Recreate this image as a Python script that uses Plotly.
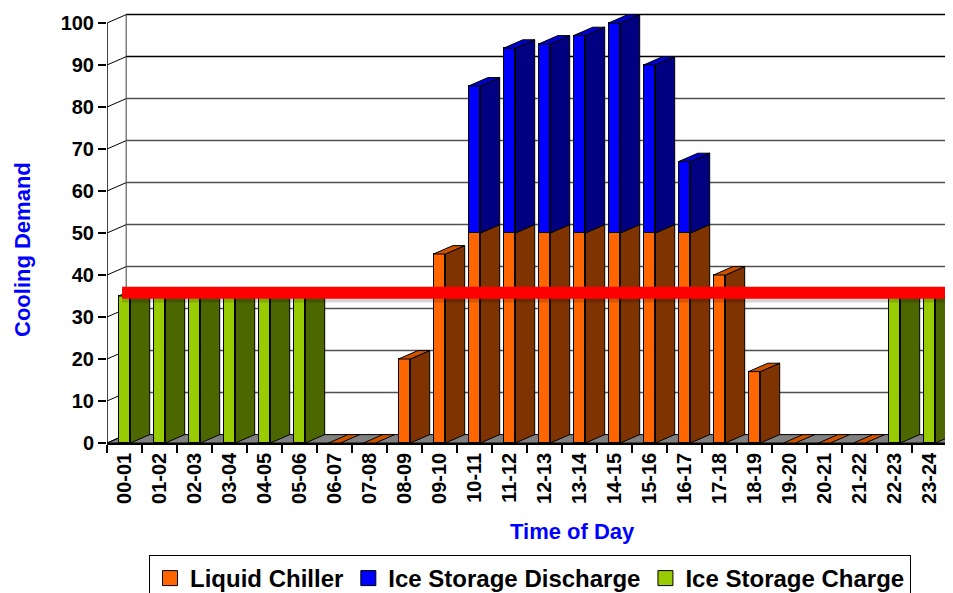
import plotly.graph_objects as go

# ---------------- data ----------------
categories = ["00-01", "01-02", "02-03", "03-04", "04-05", "05-06", "06-07", "07-08",
              "08-09", "09-10", "10-11", "11-12", "12-13", "13-14", "14-15", "15-16",
              "16-17", "17-18", "18-19", "19-20", "20-21", "21-22", "22-23", "23-24"]
liquid_chiller = [0, 0, 0, 0, 0, 0, 0, 0, 20, 45, 50, 50, 50, 50, 50, 50, 50, 40, 17, 0, 0, 0, 0, 0]
ice_discharge = [0, 0, 0, 0, 0, 0, 0, 0, 0, 0, 35, 44, 45, 47, 50, 40, 17, 0, 0, 0, 0, 0, 0, 0]
ice_charge = [35, 35, 35, 35, 35, 35, 0, 0, 0, 0, 0, 0, 0, 0, 0, 0, 0, 0, 0, 0, 0, 0, 35, 35]
y_ticks = [0, 10, 20, 30, 40, 50, 60, 70, 80, 90, 100]
threshold = 35.8

series = [
    ("Liquid Chiller", liquid_chiller, "#FF6600", "#7F3300", "#CC5200"),
    ("Ice Storage Discharge", ice_discharge, "#0000FF", "#000080", "#0000CC"),
    ("Ice Storage Charge", ice_charge, "#99CC00", "#4C6600", "#7AA300"),
]

# ---------------- style / geometry ----------------
# the page body adds an 8px offset, so the figure is sized to land on the same pixels
PAGE_OFF = 8
W, H = 953 - PAGE_OFF, 593 - PAGE_OFF
FRONT_LEFT_PX, FLOOR_PX = 107, 443          # page pixels of front-left corner / zero line
ML = FRONT_LEFT_PX - PAGE_OFF
MT = 0
MB = H - (FLOOR_PX - PAGE_OFF)
MR = 0
PLOT_W = W - ML - MR
PLOT_H = H - MT - MB
PX_PER_UNIT = 4.2
PX_PER_CAT = 35.0
BAR_W = 0.34
DX = 0.55          # depth offset in category units
DY = 2.0           # depth offset in value units
FONT = "Liberation Sans"

xpos = list(range(len(categories)))
x_lo = -0.5
x_hi = x_lo + PLOT_W / PX_PER_CAT
y_hi = PLOT_H / PX_PER_UNIT
x_far = len(categories) + 1


def px_x(px):
    return (px - FRONT_LEFT_PX) / PLOT_W


def px_y(py):
    return (FLOOR_PX - py) / PLOT_H


fig = go.Figure()

# front faces as real stacked bars
for name, vals, front, side, top in series:
    fig.add_trace(go.Bar(
        x=xpos, y=vals, name=name, width=BAR_W, showlegend=False,
        marker=dict(color=front, line=dict(color="black", width=1)),
        hoverinfo="skip",
    ))

# side faces and top faces
side_paths = {s[0]: ([], []) for s in series}
top_paths = {s[0]: ([], []) for s in series}
for i, xc in enumerate(xpos):
    xl, xr = xc - BAR_W / 2, xc + BAR_W / 2
    base = 0
    top_series = series[0][0]
    for name, vals, *_ in series:
        v = vals[i]
        if v > 0:
            xs, ys = side_paths[name]
            xs += [xr, xr + DX, xr + DX, xr, xr, None]
            ys += [base, base + DY, base + v + DY, base + v, base, None]
            base += v
            top_series = name
    xs, ys = top_paths[top_series]
    xs += [xl, xl + DX, xr + DX, xr, xl, None]
    ys += [base, base + DY, base + DY, base, base, None]

for name, vals, front, side, top in series:
    xs, ys = side_paths[name]
    if xs:
        fig.add_trace(go.Scatter(x=xs, y=ys, mode="lines", fill="toself", fillcolor=side,
                                 line=dict(color="black", width=1), showlegend=False,
                                 hoverinfo="skip"))
for name, vals, front, side, top in series:
    xs, ys = top_paths[name]
    if xs:
        fig.add_trace(go.Scatter(x=xs, y=ys, mode="lines", fill="toself", fillcolor=top,
                                 line=dict(color="black", width=1), showlegend=False,
                                 hoverinfo="skip"))

# threshold line with soft shadow
fig.add_trace(go.Scatter(x=[x_lo + 0.43, x_far], y=[threshold - 0.7, threshold - 0.7], mode="lines",
                         line=dict(color="rgba(0,0,0,0.16)", width=14), showlegend=False,
                         hoverinfo="skip"))
fig.add_trace(go.Scatter(x=[x_lo + 0.43, x_far], y=[threshold, threshold], mode="lines",
                         line=dict(color="#FF0000", width=12), showlegend=False,
                         hoverinfo="skip"))

# legend entries
for name, vals, front, side, top in series:
    fig.add_trace(go.Scatter(x=[None], y=[None], mode="markers", name=name,
                             marker=dict(symbol="square", size=15, color=front,
                                         line=dict(color="black", width=1)),
                             showlegend=True, hoverinfo="skip"))

# ---------------- 3D walls ----------------
shapes = []
shapes.append(dict(type="path", xref="x", yref="y", layer="below",
                   path=f"M {x_lo},0 L {x_lo + DX},{DY} L {x_far},{DY} L {x_far},0 Z",
                   fillcolor="#808080", line=dict(color="black", width=1)))
shapes.append(dict(type="line", xref="x", yref="y", layer="below",
                   x0=x_lo + DX, y0=DY, x1=x_lo + DX, y1=y_ticks[-1] + DY,
                   line=dict(color="#808080", width=1.5)))
for v in y_ticks:
    shapes.append(dict(type="line", xref="x", yref="y", layer="below",
                       x0=x_lo, y0=v, x1=x_lo + DX, y1=v + DY,
                       line=dict(color="black", width=1)))
    if v > 0:
        shapes.append(dict(type="line", xref="x", yref="y", layer="below",
                           x0=x_lo + DX, y0=v + DY, x1=x_far, y1=v + DY,
                           line=dict(color="black" if v >= 90 else "#505050", width=1.5)))
shapes.append(dict(type="line", xref="x", yref="y", layer="below",
                   x0=x_lo, y0=0, x1=x_lo, y1=y_ticks[-1],
                   line=dict(color="black", width=1.5)))

fig.update_layout(
    width=W, height=H,
    margin=dict(l=ML, r=MR, t=MT, b=MB, autoexpand=False),
    paper_bgcolor="white", plot_bgcolor="white",
    barmode="stack", bargap=0,
    shapes=shapes,
    showlegend=True,
    legend=dict(orientation="h", x=px_x(149), y=px_y(555),
                xanchor="left", yanchor="top", traceorder="normal",
                bordercolor="black", borderwidth=1, bgcolor="white",
                font=dict(family=FONT, size=24, color="black", weight="bold"),
                itemwidth=30, tracegroupgap=0),
    xaxis=dict(range=[x_lo, x_hi], tickmode="array", tickvals=xpos, ticktext=categories,
               tickangle=-90, ticks="", showgrid=False, zeroline=False,
               showline=True, linecolor="black", linewidth=1.5,
               tickfont=dict(family=FONT, size=20, color="black", weight="bold"),
               minor=dict(tickmode="linear", tick0=x_lo, dtick=1, ticks="outside",
                          ticklen=8, tickwidth=1.5, tickcolor="black", showgrid=False)),
    yaxis=dict(range=[0, y_hi], tickmode="array", tickvals=y_ticks, ticks="outside",
               ticklen=8, tickwidth=1.5, tickcolor="black", showgrid=False, zeroline=False,
               showline=False,
               tickfont=dict(family=FONT, size=20, color="black", weight="bold")),
    annotations=[
        dict(text="Cooling Demand", xref="paper", yref="paper",
             x=px_x(22), y=px_y(250),
             textangle=-90, showarrow=False, xanchor="center", yanchor="middle",
             font=dict(family=FONT, size=22, color="#0000FF", weight="bold")),
        dict(text="Time of Day", xref="paper", yref="paper",
             x=px_x(572), y=px_y(531),
             showarrow=False, xanchor="center", yanchor="middle",
             font=dict(family=FONT, size=22, color="#0000FF", weight="bold")),
    ],
)

fig.write_html("out.html")
